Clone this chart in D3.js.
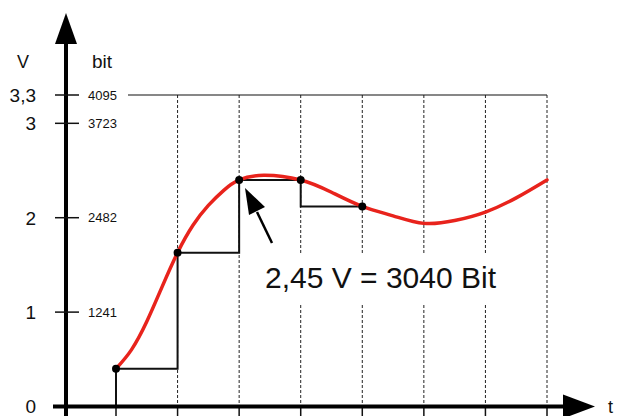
<!DOCTYPE html>
<html>
<head>
<meta charset="utf-8">
<script src="https://cdn.jsdelivr.net/npm/d3@7"></script>
<style>
  body { margin: 0; background: #fff; }
  svg { display: block; font-family: "Liberation Sans", Arial, sans-serif; }
</style>
</head>
<body>
<div id="chart"></div>
<script>
// chart data
var voltTicks = [0, 1, 2, 3, 3.3];
var voltLabels = ["0", "1", "2", "3", "3,3"];
var bitLabels = ["", "1241", "2482", "3723", "4095"];
var gridT = [1, 2, 3, 4, 5, 6, 7];
var axisTicksT = [0, 1, 2, 3, 4, 5, 6, 7];
var sampleT = [0, 1, 2, 3, 4];
var sampleV = [0.40, 1.63, 2.40, 2.40, 2.12];
// held level drawn between sample times t and t+1
var holdV = [0.40, 1.63, 2.40, 2.12];
var curveT = [0, 0.25, 0.5, 0.75, 1, 1.25, 1.5, 1.75, 2, 2.4, 3, 3.5, 4, 4.5, 5, 5.5, 6, 6.5, 7];
var curveV = [0.40, 0.60, 0.90, 1.27, 1.63, 1.92, 2.13, 2.29, 2.40, 2.45, 2.40, 2.27, 2.12, 2.02, 1.94, 1.97, 2.06, 2.21, 2.40];
var annotation = "2,45 V = 3040 Bit";

var w = 619, h = 416;

var svg = d3.select("#chart").append("svg")
    .attr("width", w)
    .attr("height", h);

var x = d3.scaleLinear().domain([0, 7]).range([116, 547]);
var y = d3.scaleLinear().domain([0, 3.3]).range([406.5, 95]);
var x0 = 66; // position of the vertical axis

// dashed grid lines
svg.append("g").selectAll("line")
    .data(gridT).enter()
    .append("line")
    .attr("x1", d => x(d)).attr("x2", d => x(d))
    .attr("y1", y(3.3)).attr("y2", y(0))
    .style("stroke", "#222")
    .style("stroke-width", 1)
    .style("stroke-dasharray", "3,2");

// top line at 4095
svg.append("line")
    .attr("x1", 128).attr("x2", x(7))
    .attr("y1", y(3.3)).attr("y2", y(3.3))
    .style("stroke", "#111").style("stroke-width", 1.2);

// small ticks under the t axis
svg.append("g").selectAll("line")
    .data(axisTicksT).enter()
    .append("line")
    .attr("x1", d => x(d)).attr("x2", d => x(d))
    .attr("y1", y(0)).attr("y2", h)
    .style("stroke", "#111").style("stroke-width", 1.5);

// white box behind the annotation text
svg.append("rect")
    .attr("x", 256).attr("y", 255)
    .attr("width", 258).attr("height", 48)
    .attr("fill", "#fff");

svg.append("text")
    .attr("x", 265).attr("y", 288)
    .style("font-size", "30px")
    .style("fill", "#111")
    .text(annotation);

// sample and hold staircase
var steps = [[sampleT[0], 0]];
holdV.forEach(function(v, i) {
    steps.push([sampleT[i], v]);
    steps.push([sampleT[i + 1], v]);
});
svg.append("path")
    .datum(steps)
    .attr("d", d3.line().x(d => x(d[0])).y(d => y(d[1])))
    .style("fill", "none")
    .style("stroke", "#111")
    .style("stroke-width", 2);

// the red signal
svg.append("path")
    .datum(curveT.map((t, i) => [t, curveV[i]]))
    .attr("d", d3.line().curve(d3.curveNatural).x(d => x(d[0])).y(d => y(d[1])))
    .style("fill", "none")
    .style("stroke", "#e8231c")
    .style("stroke-width", 3.5)
    .style("stroke-linecap", "round");

// sample points
svg.append("g").selectAll("circle")
    .data(sampleT).enter()
    .append("circle")
    .attr("cx", d => x(d))
    .attr("cy", (d, i) => y(sampleV[i]))
    .attr("r", 4)
    .style("fill", "#000");

// arrow pointing at the third sample
svg.append("line")
    .attr("x1", 272).attr("y1", 243)
    .attr("x2", 257).attr("y2", 212)
    .style("stroke", "#000").style("stroke-width", 2.5);
svg.append("path")
    .attr("d", "M245,188 L265,207 L249,215 Z")
    .style("fill", "#000");

// axes
svg.append("line")
    .attr("x1", x0).attr("x2", x0)
    .attr("y1", 40).attr("y2", h)
    .style("stroke", "#000").style("stroke-width", 4);
svg.append("path")
    .attr("d", "M" + x0 + ",13 L" + (x0 + 11) + ",44 L" + (x0 - 11) + ",44 Z")
    .style("fill", "#000");

svg.append("line")
    .attr("x1", 53).attr("x2", 566)
    .attr("y1", y(0)).attr("y2", y(0))
    .style("stroke", "#000").style("stroke-width", 4);
svg.append("path")
    .attr("d", "M595," + y(0) + " L563," + (y(0) - 12) + " L563," + (y(0) + 12) + " Z")
    .style("fill", "#000");

// y ticks and labels
var yt = svg.append("g").selectAll("g")
    .data(voltTicks).enter()
    .append("g")
    .attr("transform", d => "translate(0," + y(d) + ")");

yt.filter(d => d > 0).append("line")
    .attr("x1", 55).attr("x2", 79)
    .style("stroke", "#111").style("stroke-width", 1.5);

yt.append("text")
    .attr("x", 36)
    .attr("dy", "0.36em")
    .attr("text-anchor", "end")
    .style("font-size", "19px")
    .style("fill", "#111")
    .text((d, i) => voltLabels[i]);

yt.append("text")
    .attr("x", 88)
    .attr("dy", "0.36em")
    .style("font-size", "13px")
    .style("fill", "#111")
    .text((d, i) => bitLabels[i]);

svg.append("text")
    .attr("x", 23).attr("y", 68)
    .attr("text-anchor", "middle")
    .style("font-size", "18px")
    .style("fill", "#111")
    .text("V");
svg.append("text")
    .attr("x", 92).attr("y", 68)
    .style("font-size", "19px")
    .style("fill", "#111")
    .text("bit");
svg.append("text")
    .attr("x", 608).attr("y", 413)
    .style("font-size", "18px")
    .style("fill", "#111")
    .text("t");
</script>
</body>
</html>
